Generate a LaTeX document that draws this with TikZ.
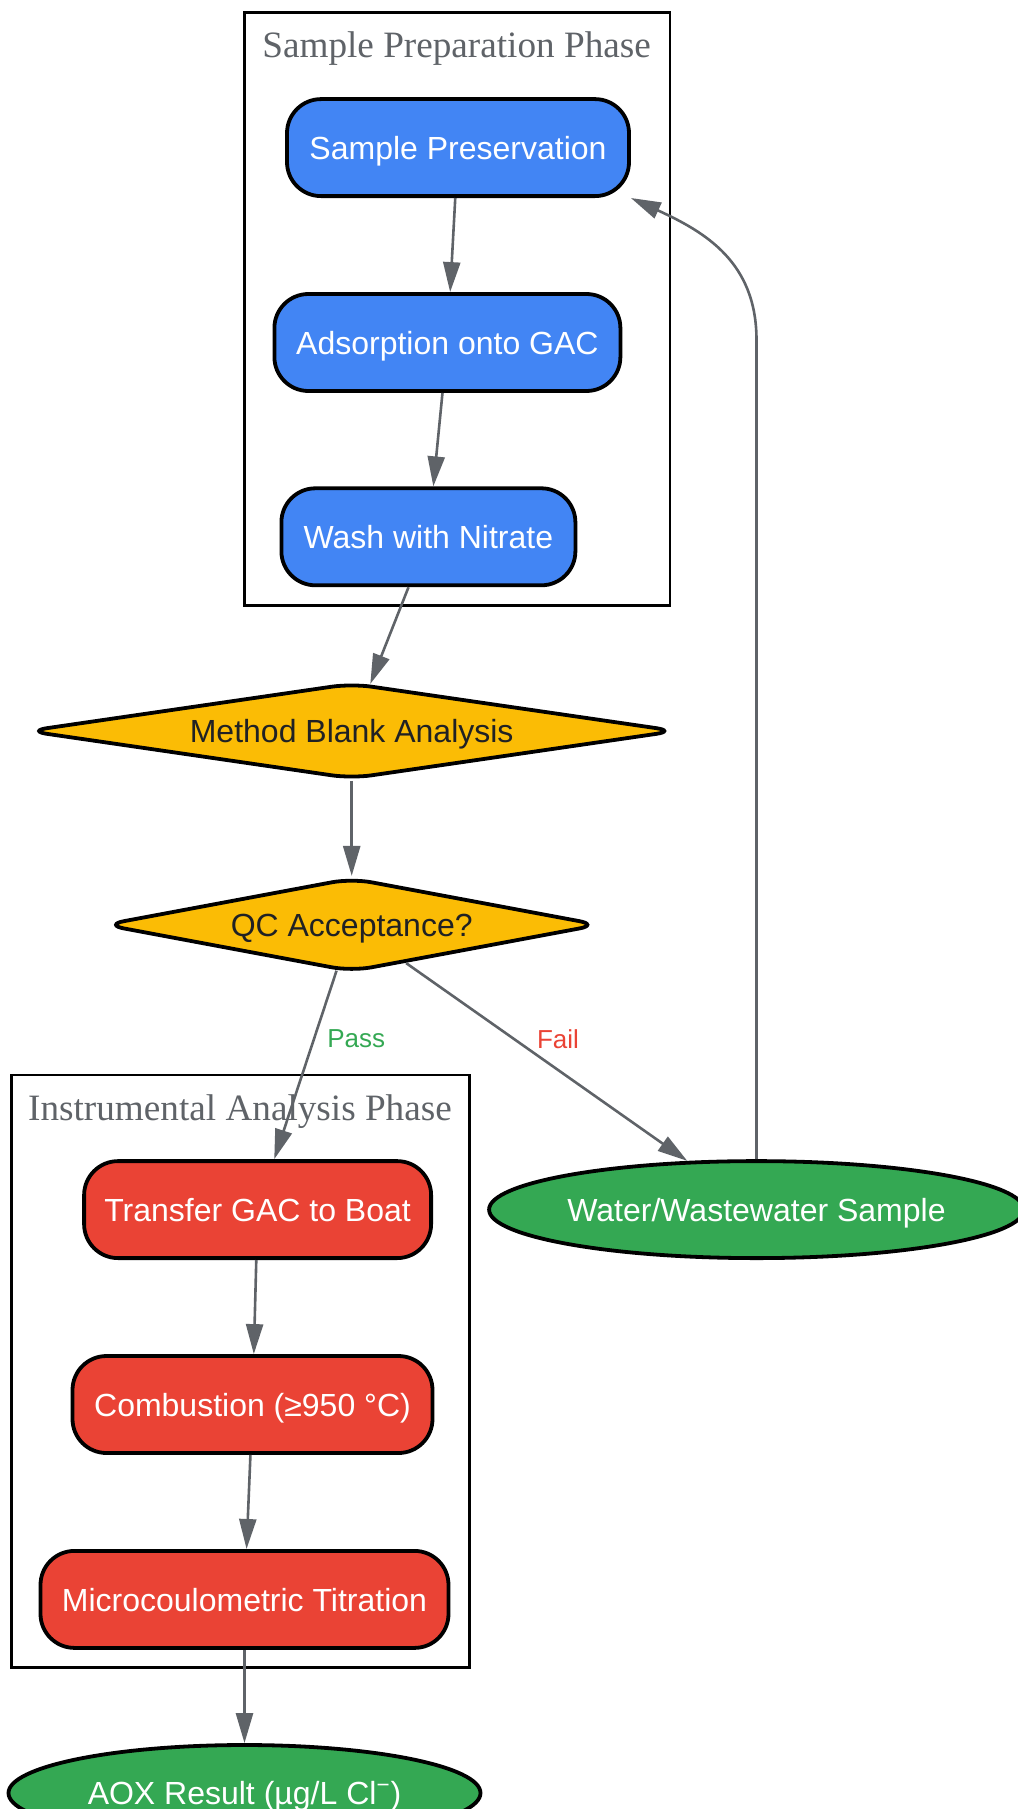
\documentclass[tikz,border=0pt]{standalone}
\usepackage{fontspec}
\setmainfont{Liberation Sans}
\newfontfamily\titlefont{Liberation Serif}
\usepackage{tikz}
\usepackage{xcolor}
\usetikzlibrary{shapes.geometric, arrows.meta, positioning, calc}

\definecolor{gblue}{HTML}{4285F4}
\definecolor{gred}{HTML}{EA4335}
\definecolor{ggreen}{HTML}{34A853}
\definecolor{gyellow}{HTML}{FBBC05}
\definecolor{ggray}{HTML}{5F6368}
\definecolor{gdark}{HTML}{202124}

\begin{document}
\begin{tikzpicture}[x=0.5pt, y=-0.5pt,
  proc/.style={rectangle, rounded corners=17pt, draw=black, line width=1.9pt, text=white, minimum height=48.5pt, inner sep=0pt, text height=15pt, text depth=3.4pt, font=\fontsize{16}{19}\selectfont},
  check/.style={diamond, rounded corners=10pt, draw=black, line width=1.9pt, fill=gyellow, text=gdark, inner sep=0pt, aspect=6, text height=15pt, text depth=3.4pt, font=\fontsize{16}{19}\selectfont},
  term/.style={ellipse, draw=black, line width=1.9pt, fill=ggreen, text=white, inner sep=0pt, text height=15pt, text depth=3.4pt, font=\fontsize{16}{19}\selectfont},
  phase/.style={draw=black, line width=1.2pt},
  phasetitle/.style={text=ggray, font=\titlefont\fontsize{18.6}{22}\selectfont},
  flow/.style={draw=ggray, line width=1.3pt, -{Triangle[length=15pt, width=8.5pt]}},
  edgelabel/.style={font=\fontsize{13}{15}\selectfont}]
\useasboundingbox (0,0) rectangle (1017,1809);

% Sample preparation phase
\draw[phase] (244.5,12.7) rectangle (670,605.4);
\node[phasetitle] (preptitle) at (456.6,49) {Sample Preparation Phase};
\node[proc, fill=gblue, minimum width=171pt] (prs) at (458,147.6) {Sample Preservation};
\node[proc, fill=gblue, minimum width=173pt] (ads) at (447.4,342.5) {Adsorption onto GAC};
\node[proc, fill=gblue, minimum width=147pt] (wash) at (428.4,536.8) {Wash with Nitrate};
\draw[flow] (prs) -- (ads);
\draw[flow] (ads) -- (wash);

% Quality control
\node[check, minimum width=325pt, minimum height=48pt] (blank) at (351.7,731) {Method Blank Analysis};
\node[check, minimum width=248pt, minimum height=47pt] (qc) at (351.7,924.8) {QC Acceptance?};
\draw[flow] (wash) -- (blank);
\draw[flow] (blank) -- (qc);

% Instrumental analysis phase
\draw[phase] (11.5,1074.7) rectangle (469.3,1667.4);
\node[phasetitle] (instrtitle) at (240,1112) {Instrumental Analysis Phase};
\node[proc, fill=gred, minimum width=173.5pt] (transfer) at (257.6,1209.6) {Transfer GAC to Boat};
\node[proc, fill=gred, minimum width=180pt] (comb) at (252.5,1404.5) {Combustion (≥950 °C)};
\node[proc, fill=gred, minimum width=204pt] (micro) at (244.5,1599.4) {Microcoulometric Titration};
\draw[flow] (transfer) -- (comb);
\draw[flow] (comb) -- (micro);

% Sample and result
\node[term, minimum width=267pt, minimum height=48.5pt] (sample) at (756.5,1209.6) {Water/Wastewater Sample};
\node[term, minimum width=236pt, minimum height=48pt] (aox) at (244.5,1793) {AOX Result (µg/L Cl\textsuperscript{−})};
\draw[flow] (micro) -- (aox);

% Pass / fail branches
\draw[flow] (qc) -- (transfer);
\draw[flow] (qc) -- (sample);
\node[edgelabel, text=ggreen] (pass) at (356.3,1039) {Pass};
\node[edgelabel, text=gred] (fail) at (558,1039) {Fail};

% Loop back to preservation
\coordinate (turn) at (756.5,340);
\draw[flow] (sample.north) -- (turn) .. controls (756.5,262) and (705,232) .. (prs.south east);
\end{tikzpicture}
\end{document}
